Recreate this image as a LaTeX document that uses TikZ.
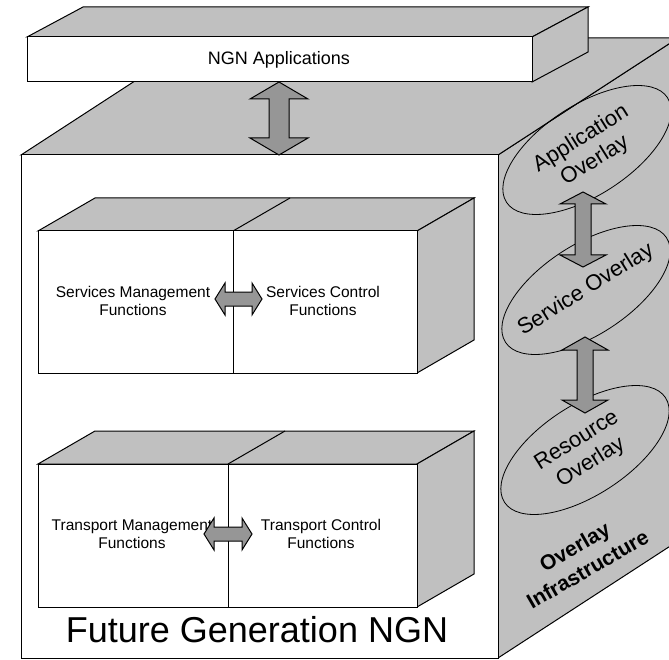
\documentclass[tikz,border=0pt]{standalone}
\usepackage{fontspec}
\setmainfont{Liberation Sans}
\definecolor{facegrey}{HTML}{C0C0C0}
\definecolor{arrowgrey}{HTML}{969696}
\newcommand\vblockarrow[6]{% x, ytop, ybot, headlen, headhalfwidth, shafthalfwidth
  \draw[blockarrow] (#1,#2) -- (#1+#5,#2+#4) -- (#1+#6,#2+#4) -- (#1+#6,#3-#4) -- (#1+#5,#3-#4) -- (#1,#3)
    -- (#1-#5,#3-#4) -- (#1-#6,#3-#4) -- (#1-#6,#2+#4) -- (#1-#5,#2+#4) -- cycle;}
\newcommand\hblockarrow[6]{% xleft, xright, y, headlen, headhalfheight, shafthalfheight
  \draw[blockarrow] (#1,#3) -- (#1+#4,#3-#5) -- (#1+#4,#3-#6) -- (#2-#4,#3-#6) -- (#2-#4,#3-#5) -- (#2,#3)
    -- (#2-#4,#3+#5) -- (#2-#4,#3+#6) -- (#1+#4,#3+#6) -- (#1+#4,#3+#5) -- cycle;}
\begin{document}
\begin{tikzpicture}[x=1pt,y=-1pt,line join=miter,
  edge/.style={draw=black,line width=1pt},
  face/.style={edge,fill=facegrey},
  front/.style={edge,fill=white},
  blockarrow/.style={edge,fill=arrowgrey},
  lbl/.style={font=\fontsize{15.5}{17.5}\selectfont,align=center,inner sep=0pt},
  ovl/.style={font=\fontsize{22}{26}\selectfont,align=center,rotate=32,inner sep=0pt},
  ring/.style={draw=black,line width=0.8pt}]
\useasboundingbox (0,0) rectangle (669,660);
\clip (0,0) rectangle (669,660);
% main cube
\draw[face] (498,155) -- (678,38) -- (678,541) -- (498,658) -- cycle;
\draw[face] (21,155) -- (201,38) -- (678,38) -- (498,155) -- cycle;
\draw[front] (21,155) rectangle (498,658);
% top bar
\draw[face] (27,37) -- (83,7) -- (588,7) -- (532,37) -- cycle;
\draw[face] (532,37) -- (588,7) -- (588,52) -- (532,82) -- cycle;
\draw[front] (27,37) rectangle (532,82);
\node[font=\fontsize{18}{20}\selectfont] (apps) at (279,60) {NGN Applications};
\vblockarrow{279}{82}{155}{17}{29}{10}
% services box
\draw[face] (38,231) -- (95,198) -- (474,198) -- (417,231) -- cycle;
\draw[face] (417,231) -- (474,198) -- (474,340) -- (417,373) -- cycle;
\draw[front] (38,231) rectangle (417,373);
\draw[edge] (233,231) -- (233,373);
\draw[edge] (233,231) -- (290,198);
\node[lbl] (smf) at (133,301) {Services Management\\Functions};
\node[lbl] (scf) at (323,301) {Services Control\\Functions};
\hblockarrow{215}{262}{299}{10}{16}{7}
% transport box
\draw[face] (38,464) -- (95,431) -- (474,431) -- (417,464) -- cycle;
\draw[face] (417,464) -- (474,431) -- (474,574) -- (417,607) -- cycle;
\draw[front] (38,464) rectangle (417,607);
\draw[edge] (228,464) -- (228,607);
\draw[edge] (228,464) -- (285,431);
\node[lbl] (tmf) at (132,534) {Transport Management\\Functions};
\node[lbl] (tcf) at (321,534) {Transport Control\\Functions};
\hblockarrow{204}{252}{534}{10}{16}{7}
\node[font=\fontsize{36}{40}\selectfont,anchor=base] (fgn) at (257,642) {Future Generation NGN};
% overlays
\draw[ring,rotate around={33:(587,150)}] (587,150) ellipse [x radius=96,y radius=45];
\draw[ring,rotate around={33:(586,290)}] (586,290) ellipse [x radius=96,y radius=45];
\draw[ring,rotate around={33:(585,450)}] (585,450) ellipse [x radius=96,y radius=45];
\vblockarrow{583}{192}{267}{12}{23}{8}
\vblockarrow{585}{337}{413}{13}{23}{8}
\node[ovl] (ao) at (588,150) {Application\\Overlay};
\node[ovl] (so) at (586,290) {Service Overlay};
\node[ovl] (ro) at (584,452) {Resource\\Overlay};
\node[ovl,font=\bfseries\fontsize{21}{26}\selectfont,rotate=-2,text=black] (oi) at (581,558) {Overlay\\Infrastructure};
\end{tikzpicture}
\end{document}
